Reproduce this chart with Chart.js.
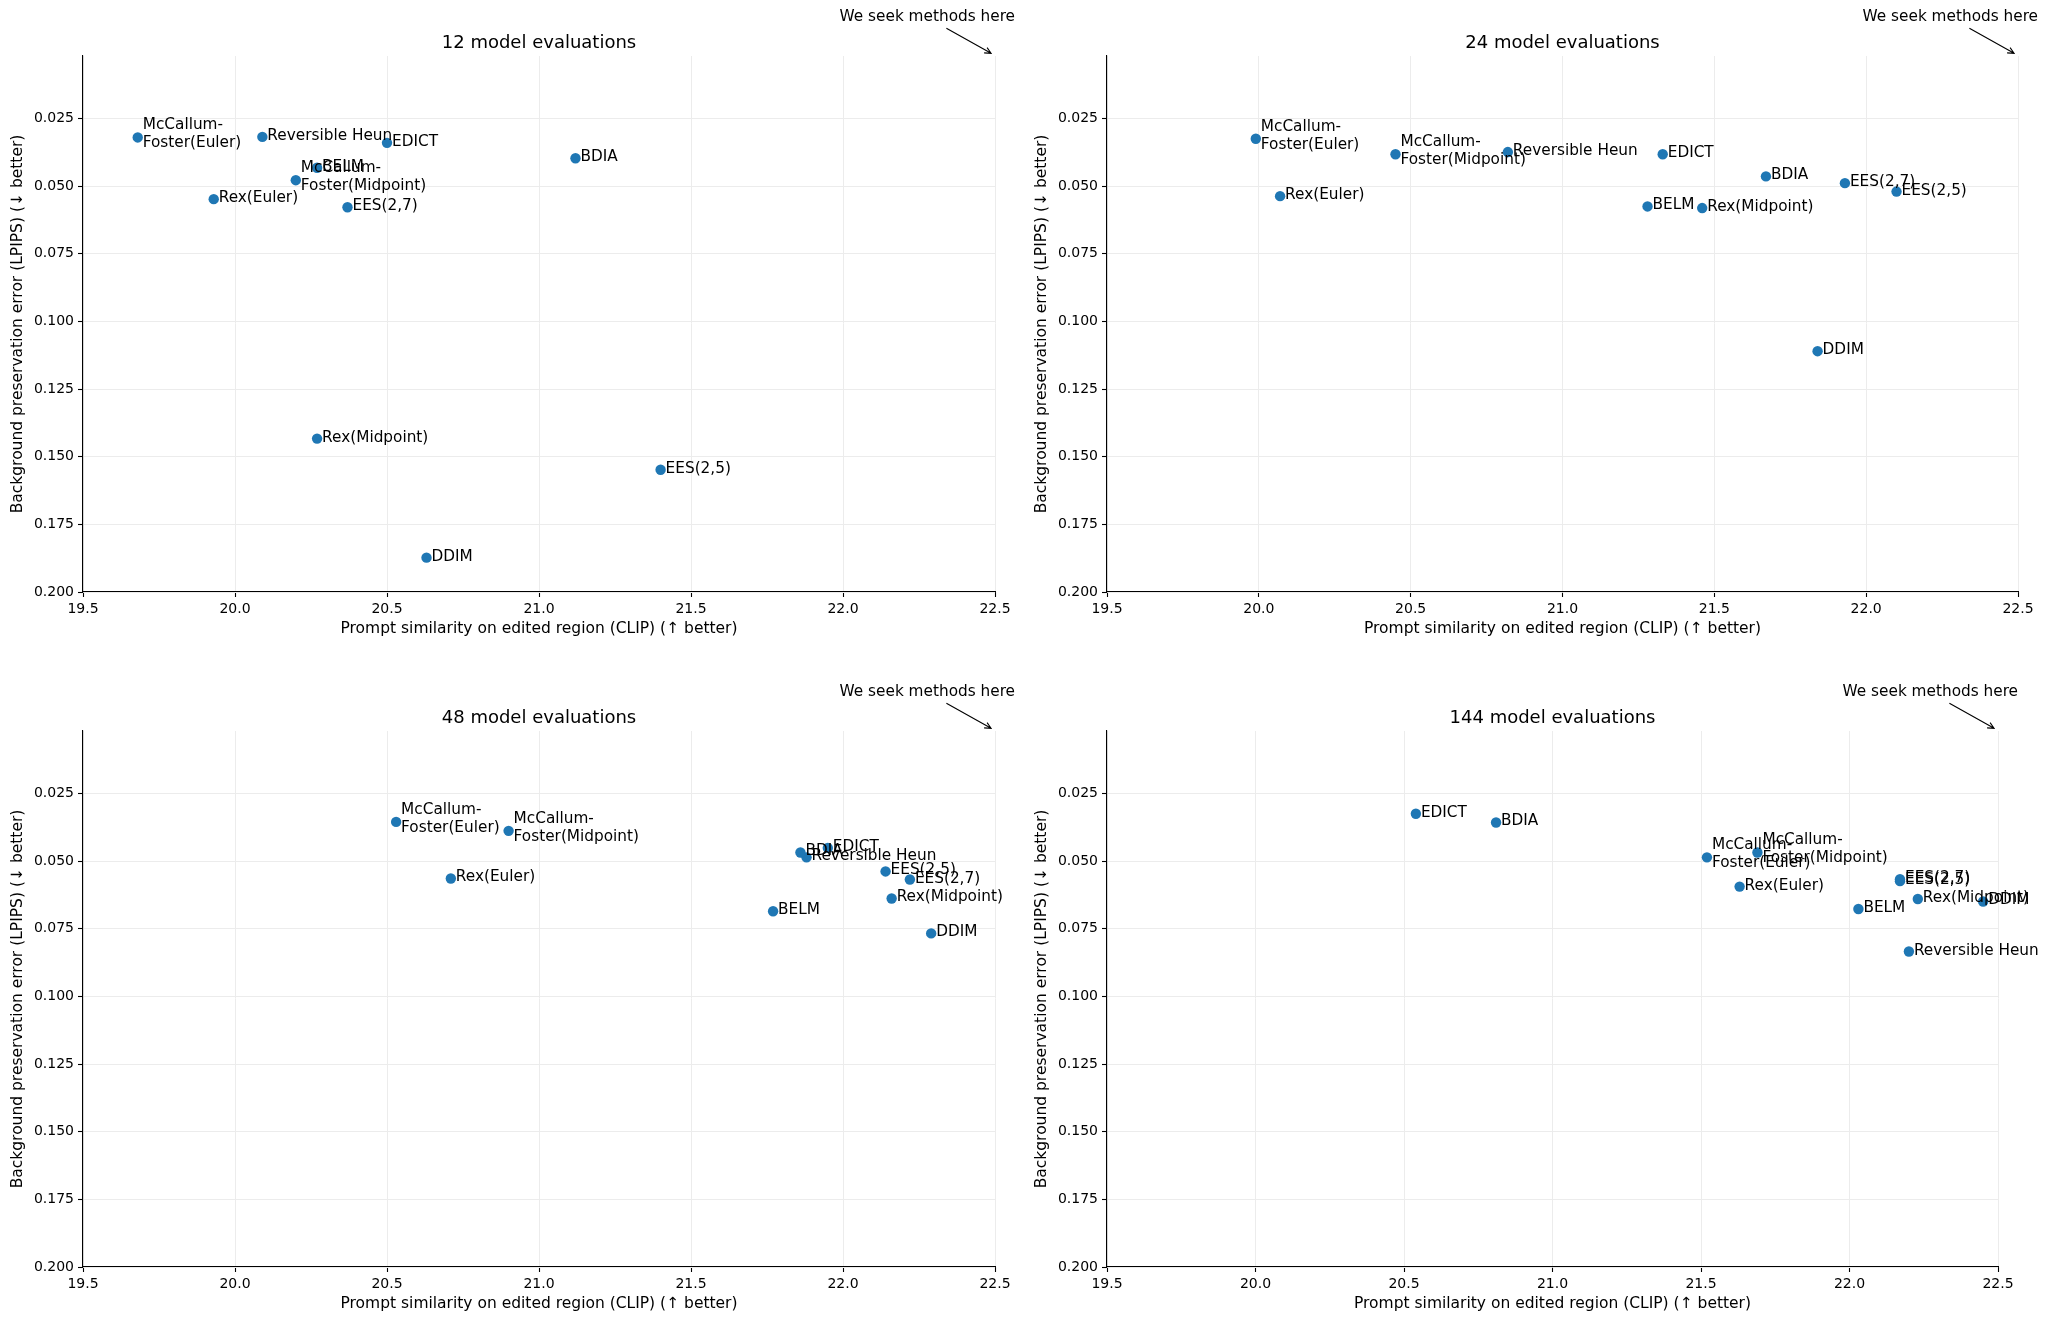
<!DOCTYPE html>
<html>
<head>
<meta charset="utf-8">
<script src="https://cdn.jsdelivr.net/npm/chart.js@4.4.1/dist/chart.umd.min.js"></script>
<style>
  html, body { margin: 0; padding: 0; background: #fff; }
  #wrap { position: relative; width: 2052px; height: 1318px; overflow: hidden; }
  #wrap canvas { position: absolute; }
</style>
</head>
<body>
<div id="wrap"></div>
<script>
// Data
const panelTitles = ['12 model evaluations', '24 model evaluations', '48 model evaluations', '144 model evaluations'];
const methodLabels = [
  'McCallum-\nFoster(Euler)', 'McCallum-\nFoster(Midpoint)', 'Reversible Heun', 'EDICT', 'BDIA', 'BELM',
  'Rex(Euler)', 'Rex(Midpoint)', 'EES(2,5)', 'EES(2,7)', 'DDIM'
];

const clip12 = [19.68, 20.20, 20.09, 20.50, 21.12, 20.27, 19.93, 20.27, 21.40, 20.37, 20.63];
const lpips12 = [0.0320, 0.0478, 0.0318, 0.0340, 0.0397, 0.0432, 0.0548, 0.1433, 0.1548, 0.0578, 0.1873];

const clip24 = [19.99, 20.45, 20.82, 21.33, 21.67, 21.28, 20.07, 21.46, 22.10, 21.93, 21.84];
const lpips24 = [0.0325, 0.0382, 0.0374, 0.0382, 0.0464, 0.0575, 0.0537, 0.0581, 0.0520, 0.0489, 0.1110];

const clip48 = [20.53, 20.90, 21.88, 21.95, 21.86, 21.77, 20.71, 22.16, 22.14, 22.22, 22.29];
const lpips48 = [0.0355, 0.0388, 0.0486, 0.0451, 0.0468, 0.0685, 0.0564, 0.0638, 0.0538, 0.0568, 0.0767];

const clip144 = [21.52, 21.69, 22.20, 20.54, 20.81, 22.03, 21.63, 22.23, 22.17, 22.17, 22.45];
const lpips144 = [0.0486, 0.0468, 0.0834, 0.0325, 0.0357, 0.0677, 0.0594, 0.0640, 0.0574, 0.0567, 0.0649];

const xTicks = [19.5, 20.0, 20.5, 21.0, 21.5, 22.0, 22.5];
const yTicks = [0.025, 0.050, 0.075, 0.100, 0.125, 0.150, 0.175, 0.200];
const xMin = 19.5, xMax = 22.5;
const yTop = 0.0019, yBottom = 0.2;

const xLabel = 'Prompt similarity on edited region (CLIP) (\u2191 better)';
const yLabel = 'Background preservation error (LPIPS) (\u2193 better)';
const noteText = 'We seek methods here';

// layout (plot area of each panel, in page pixels)
const AXIS_W = 83, TOP_PAD = 56, AXIS_H = 60;
const panels = [
  { title: panelTitles[0], xs: clip12, ys: lpips12, left: 83, top: 56, w: 912, h: 536, room: 30 },
  { title: panelTitles[1], xs: clip24, ys: lpips24, left: 1107, top: 56, w: 911, h: 536, room: 34 },
  { title: panelTitles[2], xs: clip48, ys: lpips48, left: 83, top: 731, w: 912, h: 536, room: 30 },
  { title: panelTitles[3], xs: clip144, ys: lpips144, left: 1107, top: 731, w: 891, h: 536, room: 54 }
];

Chart.defaults.font.family = '"DejaVu Sans", sans-serif';
Chart.defaults.color = '#000';

const pointLabels = {
  id: 'pointLabels',
  afterDatasetsDraw(chart, args, opts) {
    const ctx = chart.ctx;
    const meta = chart.getDatasetMeta(0);
    ctx.save();
    ctx.fillStyle = '#000';
    ctx.font = '15.3px "DejaVu Sans"';
    ctx.textAlign = 'left';
    ctx.textBaseline = 'alphabetic';
    meta.data.forEach((pt, i) => {
      const lines = methodLabels[i].split('\n');
      const tx = pt.x + 5;
      if (lines.length === 1) {
        ctx.fillText(lines[0], tx, pt.y + 3);
      } else {
        ctx.fillText(lines[0], tx, pt.y - 8);
        ctx.fillText(lines[1], tx, pt.y + 10);
      }
    });

    // panel title
    const area = chart.chartArea;
    ctx.font = '18px "DejaVu Sans"';
    ctx.textAlign = 'center';
    ctx.fillText(opts.title, (area.left + area.right) / 2, area.top - 8);

    // "We seek methods here" arrow to the top-right corner
    const cx = chart.scales.x.getPixelForValue(xMax);
    const cy = chart.scales.y.getPixelForValue(yTop);
    ctx.font = '15.3px "DejaVu Sans"';
    ctx.textAlign = 'right';
    ctx.fillText(noteText, cx + 20, cy - 35);

    const x0 = cx - 48.6, y0 = cy - 27.7;
    const x1 = cx - 3.9, y1 = cy - 2.7;
    ctx.strokeStyle = '#000';
    ctx.lineWidth = 1.1;
    ctx.beginPath();
    ctx.moveTo(x0, y0);
    ctx.lineTo(x1, y1);
    const ang = Math.atan2(y1 - y0, x1 - x0);
    const hl = 7, spread = 0.45;
    ctx.moveTo(x1 - hl * Math.cos(ang - spread), y1 - hl * Math.sin(ang - spread));
    ctx.lineTo(x1, y1);
    ctx.lineTo(x1 - hl * Math.cos(ang + spread), y1 - hl * Math.sin(ang + spread));
    ctx.stroke();
    ctx.restore();
  }
};

const wrap = document.getElementById('wrap');

panels.forEach((p, idx) => {
  const canvas = document.createElement('canvas');
  const cw = AXIS_W + p.w + p.room;
  const ch = TOP_PAD + p.h + AXIS_H;
  canvas.width = cw;
  canvas.height = ch;
  canvas.style.width = cw + 'px';
  canvas.style.height = ch + 'px';
  canvas.style.left = (p.left - AXIS_W) + 'px';
  canvas.style.top = (p.top - TOP_PAD) + 'px';
  wrap.appendChild(canvas);

  const points = p.xs.map((x, i) => ({ x: x, y: p.ys[i] }));

  const gridOpts = {
    color: '#ececec',
    lineWidth: 1,
    drawTicks: true,
    tickLength: 5,
    tickColor: '#000',
    tickWidth: 1.1
  };

  new Chart(canvas, {
    type: 'scatter',
    data: {
      datasets: [{
        data: points,
        backgroundColor: '#1f77b4',
        borderColor: '#1f77b4',
        borderWidth: 0,
        pointRadius: 5.2,
        pointHoverRadius: 5.2
      }]
    },
    options: {
      responsive: false,
      animation: false,
      events: [],
      layout: { padding: { left: 0, top: TOP_PAD, right: p.room, bottom: 0 } },
      plugins: {
        legend: { display: false },
        tooltip: { enabled: false },
        pointLabels: { title: p.title }
      },
      scales: {
        x: {
          type: 'linear',
          position: 'bottom',
          min: xMin,
          max: xMax,
          afterBuildTicks: s => { s.ticks = xTicks.map(v => ({ value: v })); },
          afterFit: s => { s.height = AXIS_H; s.paddingLeft = 0; s.paddingRight = 0; },
          ticks: {
            callback: v => v.toFixed(1),
            font: { size: 14 },
            color: '#000',
            padding: 4,
            maxRotation: 0,
            autoSkip: false
          },
          grid: gridOpts,
          border: { display: true, color: '#000', width: 1.1 },
          title: {
            display: true,
            text: xLabel,
            font: { size: 15.5 },
            color: '#000',
            padding: { top: 0, bottom: 14 }
          }
        },
        y: {
          type: 'linear',
          position: 'left',
          reverse: true,
          min: yTop,
          max: yBottom,
          afterBuildTicks: s => { s.ticks = yTicks.map(v => ({ value: v })); },
          afterFit: s => { s.width = AXIS_W; s.paddingTop = 0; s.paddingBottom = 0; },
          ticks: {
            callback: v => v.toFixed(3),
            font: { size: 14 },
            color: '#000',
            padding: 4,
            autoSkip: false
          },
          grid: gridOpts,
          border: { display: true, color: '#000', width: 1.1 },
          title: {
            display: true,
            text: yLabel,
            font: { size: 15.5 },
            color: '#000',
            padding: { top: 8.7, bottom: 0 }
          }
        }
      }
    },
    plugins: [pointLabels]
  });
});
</script>
</body>
</html>
